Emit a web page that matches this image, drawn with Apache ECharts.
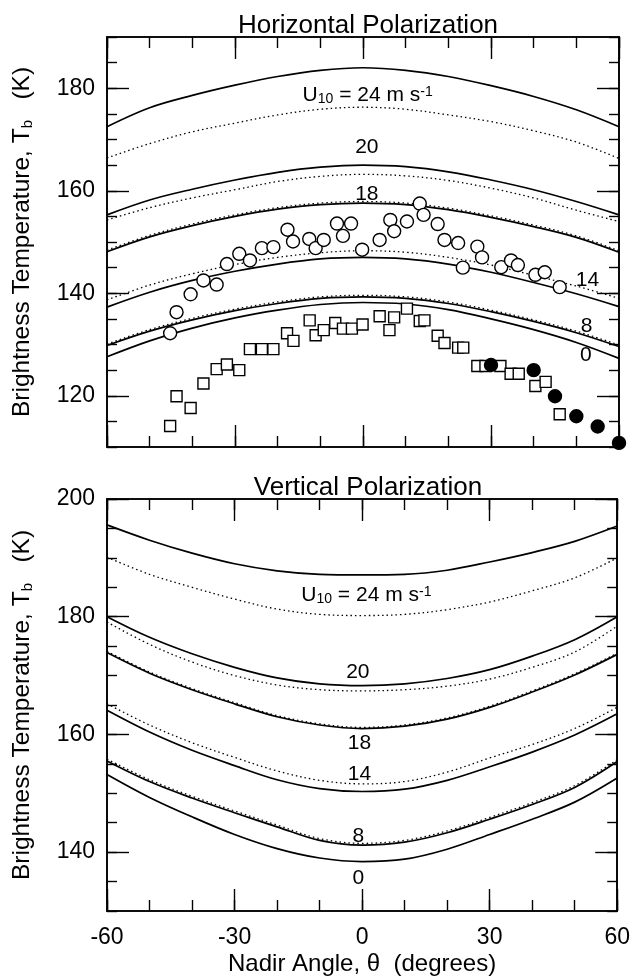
<!DOCTYPE html>
<html>
<head>
<meta charset="utf-8">
<script src="https://cdn.jsdelivr.net/npm/echarts@6/dist/echarts.min.js"></script>
<style>
html, body { margin: 0; padding: 0; background: #fff; }
#chart { width: 633px; height: 979px; }
</style>
</head>
<body>
<div id="chart"></div>
<script>
// nadir angles for the model curves
const angles = [-60, -50, -40, -30, -20, -10, 0, 10, 20, 30, 40, 50, 60];

// Horizontal polarization, model curves (solid / dotted)
const h24Solid = [172.5, 176.2, 178.6, 180.6, 182.3, 183.5, 184.0, 183.5, 182.3, 180.5, 178.4, 175.8, 172.5];
const h24Dot   = [166.4, 169.2, 171.5, 173.2, 174.8, 175.9, 176.3, 175.9, 174.8, 173.5, 171.7, 169.5, 166.3];
const h20Solid = [155.3, 158.2, 160.3, 162.1, 163.6, 164.6, 165.0, 164.7, 163.7, 162.1, 160.2, 157.9, 155.3];
const h20Dot   = [154.3, 156.7, 158.6, 160.2, 161.8, 162.8, 163.2, 162.9, 162.0, 160.5, 158.6, 156.2, 154.0];
const h18Solid = [148.1, 151.0, 153.2, 155.0, 156.4, 157.3, 157.6, 157.3, 156.3, 154.8, 153.0, 150.9, 148.0];
const h18Dot   = [148.4, 151.3, 153.5, 155.3, 156.7, 157.6, 157.9, 157.6, 156.6, 155.1, 153.3, 151.2, 148.3];
const h14Solid = [137.3, 140.2, 142.5, 144.3, 145.7, 146.7, 147.0, 146.7, 145.7, 144.1, 142.1, 139.9, 137.4];
const h14Dot   = [138.7, 141.6, 143.8, 145.6, 147.0, 147.9, 148.3, 148.0, 147.0, 145.5, 143.5, 141.4, 139.0];
const h8Solid  = [129.8, 132.6, 134.8, 136.6, 138.0, 139.0, 139.3, 139.0, 138.0, 136.4, 134.5, 132.3, 129.6];
const h8Dot    = [130.1, 132.9, 135.1, 136.9, 138.3, 139.3, 139.6, 139.3, 138.3, 136.7, 134.8, 132.6, 129.9];
const h0Solid  = [127.6, 130.7, 133.2, 135.2, 136.7, 137.8, 138.2, 137.9, 136.8, 135.0, 132.9, 130.4, 127.3];

// Horizontal polarization, measurements
const hCircles = [[-45.2,132.2],[-43.7,136.3],[-40.4,139.8],[-37.4,142.5],[-34.3,141.7],[-31.9,145.7],[-29.0,147.7],
  [-26.5,146.4],[-23.7,148.8],[-21.0,149.0],[-17.7,152.4],[-16.4,150.1],[-12.6,150.6],[-11.1,148.8],[-9.2,150.4],
  [-6.1,153.6],[-4.7,151.2],[-2.8,153.6],[-0.2,148.5],[3.9,150.4],[6.4,154.3],[7.3,152.1],[10.3,154.0],[13.3,157.5],
  [14.2,155.3],[17.5,153.5],[19.1,150.4],[22.3,149.8],[23.4,145.0],[26.8,149.1],[27.9,147.0],[32.4,145.1],[34.7,146.4],
  [36.3,145.5],[40.4,143.6],[42.6,144.1],[46.1,141.2]];
const hSquares = [[-45.2,114.1],[-43.7,119.9],[-40.4,117.6],[-37.4,122.4],[-34.3,125.2],[-31.9,126.1],[-29.0,125.0],
  [-26.5,129.1],[-23.7,129.1],[-21.0,129.1],[-17.8,132.2],[-16.3,130.7],[-12.5,134.7],[-11.1,131.8],[-9.2,132.8],
  [-6.5,134.2],[-4.7,133.1],[-2.6,133.1],[-0.1,133.9],[3.9,135.5],[6.2,132.8],[7.3,135.3],[10.3,137.0],[13.3,134.6],
  [14.4,134.7],[17.5,131.7],[19.1,130.3],[22.3,129.4],[23.5,129.4],[26.8,125.8],[28.7,125.8],[32.2,125.8],[34.6,124.3],
  [36.5,124.3],[40.4,121.9],[42.8,122.7],[46.1,116.4]];
const hFilled = [[30,126.0],[40,125.0],[45,119.9],[50,116.0],[55,114.0],[60,110.8]];

// Vertical polarization, model curves
const v24Solid = [195.6, 193.0, 190.8, 189.0, 187.8, 187.2, 187.1, 187.2, 187.9, 189.3, 190.9, 192.8, 195.4];
const v24Dot   = [190.1, 187.2, 185.0, 183.0, 181.3, 180.4, 180.2, 180.4, 181.2, 182.5, 184.4, 186.6, 190.0];
const v20Solid = [180.0, 176.5, 173.7, 171.4, 169.6, 168.6, 168.3, 168.6, 169.5, 171.0, 173.3, 176.1, 180.0];
const v20Dot   = [179.1, 175.3, 172.3, 170.0, 168.4, 167.6, 167.4, 167.6, 168.2, 169.4, 171.4, 174.0, 178.4];
const v18Solid = [173.9, 170.4, 167.6, 165.2, 163.0, 161.6, 161.0, 161.4, 162.6, 164.6, 167.2, 170.1, 173.6];
const v18Dot   = [174.1, 170.6, 167.8, 165.4, 163.2, 161.8, 161.2, 161.6, 162.8, 164.8, 167.4, 170.3, 173.8];
const v14Solid = [164.1, 160.4, 157.3, 154.7, 152.3, 150.8, 150.3, 150.7, 152.2, 154.5, 157.0, 159.9, 163.5];
const v14Dot   = [165.2, 161.6, 158.6, 156.1, 153.8, 152.2, 151.6, 152.0, 153.6, 156.0, 158.3, 161.0, 164.6];
const v8Solid  = [155.5, 152.0, 149.2, 146.7, 144.3, 142.0, 141.2, 141.7, 143.3, 145.6, 148.1, 151.0, 155.4];
const v8Dot    = [155.8, 152.3, 149.5, 147.0, 144.6, 142.3, 141.5, 142.0, 143.6, 145.9, 148.4, 151.3, 155.7];
const v0Solid  = [153.2, 149.3, 146.0, 143.0, 140.6, 139.0, 138.4, 138.8, 140.5, 143.0, 145.6, 148.5, 152.6];

// curve labels: [angle, Tb, text]
const hLabels = [[1.1, 178.6, '{n|U}{s|10}{n| = 24 m s}{p|-1}'], [0.9, 168.5, '20'], [0.9, 159.4, '18'],
  [52.6, 142.6, '14'], [52.4, 133.5, '8'], [52.2, 128.0, '0']];
const vLabels = [[1.0, 183.6, '{n|U}{s|10}{n| = 24 m s}{p|-1}'], [-1.0, 170.6, '20'], [-0.6, 158.5, '18'],
  [-0.6, 153.2, '14'], [-0.9, 142.7, '8'], [-0.9, 135.6, '0']];

// tick labels
const hMajorTicks = [120, 140, 160, 180];
const vMajorTicks = [140, 160, 180, 200];

const FONT = '"Liberation Sans", Arial, sans-serif';
const black = '#000';

function xAxes(grid, showLabels) {
    const base = {
        type: 'value', gridIndex: grid, min: -60, max: 60,
        splitLine: { show: false },
        axisLine: { onZero: false, lineStyle: { color: black, width: 1.6 } }
    };
    const labels = {
        show: showLabels, margin: 15, color: black, fontSize: 23, fontFamily: FONT
    };
    let main = Object.assign({}, base, {
        position: 'bottom', interval: 30,
        axisTick: { inside: true, length: 22, lineStyle: { color: black, width: 1.4 } },
        axisLabel: labels
    });
    if (showLabels) {
        main.name = 'Nadir Angle, \u03b8  (degrees)';
        main.nameLocation = 'middle';
        main.nameGap = 41;
        main.nameTextStyle = { color: black, fontSize: 24, fontFamily: FONT };
    }
    return [
        main,
        Object.assign({}, base, { position: 'bottom', interval: 10,
            axisTick: { inside: true, length: 11, lineStyle: { color: black, width: 1.4 } }, axisLabel: { show: false } }),
        Object.assign({}, base, { position: 'top', interval: 30,
            axisTick: { inside: true, length: 22, lineStyle: { color: black, width: 1.4 } }, axisLabel: { show: false } }),
        Object.assign({}, base, { position: 'top', interval: 10,
            axisTick: { inside: true, length: 11, lineStyle: { color: black, width: 1.4 } }, axisLabel: { show: false } })
    ];
}

function yAxes(grid, min, max, majors) {
    const base = {
        type: 'value', gridIndex: grid, min: min, max: max,
        splitLine: { show: false },
        axisLine: { onZero: false, lineStyle: { color: black, width: 1.6 } }
    };
    const major = {
        inside: true, length: 22, customValues: majors, lineStyle: { color: black, width: 1.4 }
    };
    const minor = {
        inside: true, length: 10, lineStyle: { color: black, width: 1.4 }
    };
    return [
        Object.assign({}, base, {
            position: 'left', axisTick: major,
            axisLabel: { customValues: majors, margin: 12, color: black, fontSize: 23, fontFamily: FONT },
            name: 'Brightness Temperature, T{s|b}   (K)',
            nameLocation: 'middle', nameGap: 72,
            nameTextStyle: {
                color: black, fontSize: 24.5, fontFamily: FONT,
                rich: { s: { fontSize: 15, lineHeight: 15, verticalAlign: 'bottom', fontFamily: FONT, color: black } }
            }
        }),
        Object.assign({}, base, { position: 'left', interval: 5, axisTick: minor, axisLabel: { show: false } }),
        Object.assign({}, base, { position: 'right', axisTick: major, axisLabel: { show: false } }),
        Object.assign({}, base, { position: 'right', interval: 5, axisTick: minor, axisLabel: { show: false } })
    ];
}

function curve(idx, values, dotted) {
    return {
        type: 'line', xAxisIndex: idx, yAxisIndex: idx,
        data: angles.map((a, i) => [a, values[i]]),
        symbol: 'none', smooth: 0.35, silent: true,
        lineStyle: dotted
            ? { color: black, width: 1.3, type: [1.5, 3] }
            : { color: black, width: 1.7 }
    };
}

function labels(idx, data) {
    return {
        type: 'scatter', xAxisIndex: idx, yAxisIndex: idx, data: data,
        symbolSize: 0, silent: true, z: 5,
        itemStyle: { color: black, opacity: 1 },
        label: {
            show: true, position: 'inside', color: black, opacity: 1,
            fontSize: 21, fontFamily: FONT,
            formatter: p => p.data[2],
            rich: {
                n: { fontSize: 21, fontFamily: FONT, color: black },
                s: { fontSize: 14, lineHeight: 14, verticalAlign: 'bottom', fontFamily: FONT, color: black },
                p: { fontSize: 14, lineHeight: 14, verticalAlign: 'top', fontFamily: FONT, color: black }
            }
        }
    };
}

function marks(idx, data, symbol, size, fill) {
    return {
        type: 'scatter', xAxisIndex: idx, yAxisIndex: idx, data: data,
        symbol: symbol, symbolSize: size, z: 4,
        itemStyle: { color: fill, borderColor: black, borderWidth: 1.4, opacity: 1 }
    };
}

let chart = echarts.init(document.getElementById('chart'), null, { renderer: 'canvas' });

let option = {
    backgroundColor: '#fff',
    animation: false,
    title: [
        { text: 'Horizontal Polarization', left: 363, top: 8, textAlign: 'center',
          textStyle: { color: black, fontSize: 26, fontWeight: 'normal', fontFamily: FONT } },
        { text: 'Vertical Polarization', left: 363, top: 470, textAlign: 'center',
          textStyle: { color: black, fontSize: 26, fontWeight: 'normal', fontFamily: FONT } }
    ],
    grid: [
        { left: 107, top: 37, width: 512, height: 410 },
        { left: 107, top: 499, width: 512, height: 412 }
    ],
    xAxis: xAxes(0, false).concat(xAxes(1, true)),
    yAxis: yAxes(0, 110, 190, hMajorTicks).concat(yAxes(1, 130, 200, vMajorTicks)),
    series: [
        curve(0, h24Solid, false), curve(0, h24Dot, true),
        curve(0, h20Solid, false), curve(0, h20Dot, true),
        curve(0, h18Solid, false), curve(0, h18Dot, true),
        curve(0, h14Solid, false), curve(0, h14Dot, true),
        curve(0, h8Solid, false), curve(0, h8Dot, true),
        curve(0, h0Solid, false),
        marks(0, hSquares, 'rect', 11, '#fff'),
        marks(0, hCircles, 'circle', 13, '#fff'),
        marks(0, hFilled, 'circle', 13, black),
        labels(0, hLabels),
        curve(4, v24Solid, false), curve(4, v24Dot, true),
        curve(4, v20Solid, false), curve(4, v20Dot, true),
        curve(4, v18Solid, false), curve(4, v18Dot, true),
        curve(4, v14Solid, false), curve(4, v14Dot, true),
        curve(4, v8Solid, false), curve(4, v8Dot, true),
        curve(4, v0Solid, false),
        labels(4, vLabels)
    ]
};

chart.setOption(option, true);
</script>
</body>
</html>
